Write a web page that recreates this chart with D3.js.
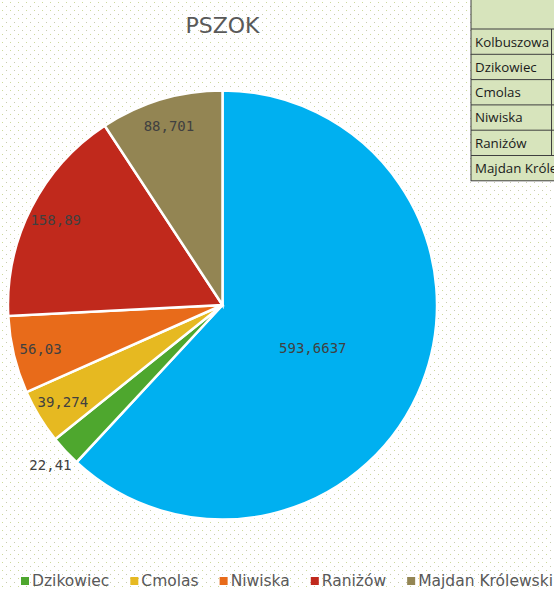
<!DOCTYPE html>
<html>
<head>
<meta charset="utf-8">
<script src="https://cdn.jsdelivr.net/npm/d3@7"></script>
<style>
  body { margin: 0; background: #fff; }
  svg { display: block; }
</style>
</head>
<body>
<svg id="chart" width="554" height="590"></svg>
<script>
// data
const gminy = ["Kolbuszowa", "Dzikowiec", "Cmolas", "Niwiska", "Raniżów", "Majdan Królewski"];
const wartosci = [593.6637, 22.41, 39.274, 56.03, 158.89, 88.701];
const etykiety = ["593,6637", "22,41", "39,274", "56,03", "158,89", "88,701"];
const kolory = ["#00b0f0", "#4ea72e", "#e6b921", "#e86b1a", "#c0291c", "#938553"];
const tytul = "PSZOK";

function init() {
  const width = 554,
    height = 590;
  const cx = 222.5,
    cy = 305,
    radius = 214.5;

  const svg = d3.select("#chart");

  // dotted background
  const defs = svg.append("defs");
  const pat = defs
    .append("pattern")
    .attr("id", "dots")
    .attr("width", 8)
    .attr("height", 8)
    .attr("patternUnits", "userSpaceOnUse");
  pat.append("rect").attr("width", 8).attr("height", 8).attr("fill", "#ffffff");
  pat.append("rect").attr("x", 2).attr("y", 2).attr("width", 1).attr("height", 1).attr("fill", "#cdd99a");
  pat.append("rect").attr("x", 6).attr("y", 6).attr("width", 1).attr("height", 1).attr("fill", "#c8cbb0");
  svg.append("rect").attr("width", width).attr("height", height).attr("fill", "url(#dots)");

  // title
  svg
    .append("text")
    .attr("x", cx)
    .attr("y", 33)
    .attr("text-anchor", "middle")
    .style("font-family", "DejaVu Sans")
    .style("font-size", "22px")
    .attr("fill", "#595959")
    .text(tytul);

  // pie
  const data = gminy.map((g, i) => ({ name: g, value: wartosci[i], label: etykiety[i], color: kolory[i] }));
  const pie = d3.pie().sort(null).value((d) => d.value);
  const arcs = pie(data);
  const arcGenerator = d3.arc().innerRadius(0).outerRadius(radius);

  const g = svg.append("g").attr("transform", `translate(${cx}, ${cy})`);

  g.selectAll("path")
    .data(arcs)
    .join("path")
    .attr("d", arcGenerator)
    .attr("fill", (d) => d.data.color)
    .attr("stroke", "#ffffff")
    .style("stroke-width", "2.5px");

  // labels: big slice near the middle, small ones outside, rest inside end
  const labelRadius = (d) => {
    const span = d.endAngle - d.startAngle;
    if (span > Math.PI) return 97;
    if (span < 0.16) return 235;
    return 187;
  };

  g.selectAll("text.lbl")
    .data(arcs)
    .join("text")
    .attr("class", "lbl")
    .attr("transform", (d) => {
      const r = labelRadius(d);
      const p = d3.arc().innerRadius(r).outerRadius(r).centroid(d);
      if (r < 100) p[1] += 8;
      return `translate(${p})`;
    })
    .attr("text-anchor", "middle")
    .attr("dominant-baseline", "central")
    .style("font-family", "DejaVu Sans Mono")
    .style("font-size", "14px")
    .attr("fill", "#404040")
    .text((d) => d.data.label);

  // legend (the Kolbuszowa entry is outside the visible crop)
  const legend = svg.append("g").attr("transform", "translate(0, 581)");
  const items = legend
    .selectAll("g")
    .data(data.slice(1))
    .join("g");
  items
    .append("rect")
    .attr("y", -4)
    .attr("width", 8)
    .attr("height", 8)
    .attr("fill", (d) => d.color);
  items
    .append("text")
    .attr("x", 11)
    .attr("dominant-baseline", "central")
    .style("font-family", "DejaVu Sans")
    .style("font-size", "15.5px")
    .attr("fill", "#595959")
    .text((d) => d.name);

  const gap = 21;
  let x = 21;
  items.attr("transform", function () {
    const t = `translate(${x}, 0)`;
    x += 11 + d3.select(this).select("text").node().getComputedTextLength() + gap;
    return t;
  });

  // piece of the spreadsheet table at the top right
  const rowH = 25.3;
  const table = svg.append("g");
  table
    .append("rect")
    .attr("x", 471)
    .attr("y", -1)
    .attr("width", 90)
    .attr("height", 29 + gminy.length * rowH + 1)
    .attr("fill", "#d7e4bc")
    .attr("stroke", "#3f3f3f")
    .attr("stroke-width", 1);
  gminy.forEach((name, i) => {
    const y0 = 29 + i * rowH;
    table
      .append("line")
      .attr("x1", 471)
      .attr("x2", 560)
      .attr("y1", y0)
      .attr("y2", y0)
      .attr("stroke", "#3f3f3f");
    table
      .append("text")
      .attr("x", 475)
      .attr("y", y0 + 17.5)
      .style("font-family", "Open Sans")
      .style("font-size", "13.3px")
      .attr("fill", "#1a1a1a")
      .text(name);
  });
  // column border; the last name spills over into the next cell
  table
    .append("line")
    .attr("x1", 551.5)
    .attr("x2", 551.5)
    .attr("y1", 29)
    .attr("y2", 29 + (gminy.length - 1) * rowH)
    .attr("stroke", "#3f3f3f");
}

init();
</script>
</body>
</html>
